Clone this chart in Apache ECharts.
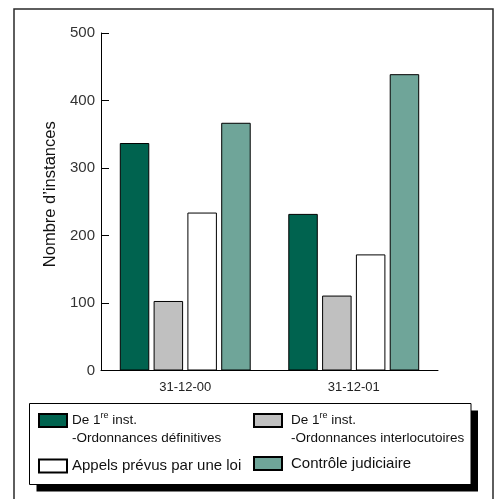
<!DOCTYPE html>
<html>
<head>
<meta charset="utf-8">
<script src="https://cdn.jsdelivr.net/npm/echarts@6/dist/echarts.min.js"></script>
<style>
  html, body { margin: 0; padding: 0; background: #fff; }
  #chart { width: 496px; height: 499px; }
</style>
</head>
<body>
<div id="chart"></div>
<script>
// Periods shown on the category axis
const categories = ['31-12-00', '31-12-01'];

// Number of proceedings per kind, one value per period
const finalOrders = [337, 232];          // De 1re inst. - Ordonnances définitives
const interlocutoryOrders = [103, 111];  // De 1re inst. - Ordonnances interlocutoires
const statutoryAppeals = [234, 172];     // Appels prévus par une loi
const judicialReview = [367, 439];       // Contrôle judiciaire

// Value axis ticks
const yTicks = [0, 100, 200, 300, 400, 500];

const seriesNames = [
  'De 1re inst. -Ordonnances définitives',
  'De 1re inst. -Ordonnances interlocutoires',
  'Appels prévus par une loi',
  'Contrôle judiciaire'
];
const seriesColors = ['#00634F', '#C0C0C0', '#FFFFFF', '#6FA599'];
const seriesData = [finalOrders, interlocutoryOrders, statutoryAppeals, judicialReview];

const FONT = '"Liberation Sans", Arial, Helvetica, sans-serif';

const twoLineRich = {
  t: { fontFamily: FONT, fontSize: 13.5, lineHeight: 18, color: '#111' },
  s: { fontFamily: FONT, fontSize: 9, lineHeight: 16, color: '#111', verticalAlign: 'top' }
};
const oneLineRich = {
  u: { fontFamily: FONT, fontSize: 15, lineHeight: 18, color: '#111' }
};

function legendLabel(name) {
  if (name === seriesNames[0]) return '{t|De 1}{s|re}{t| inst.}\n{t|-Ordonnances définitives}';
  if (name === seriesNames[1]) return '{t|De 1}{s|re}{t| inst.}\n{t|-Ordonnances interlocutoires}';
  return '{u|' + name + '}';
}

function makeLegend(name, left, top, twoLine, textPadLeft) {
  return {
    data: [name],
    left: left,
    top: top,
    padding: 0,
    orient: 'horizontal',
    icon: 'rect',
    itemWidth: 28,
    itemHeight: 13,
    selectedMode: false,
    formatter: legendLabel,
    textStyle: {
      fontFamily: FONT,
      padding: twoLine ? [18, 0, 0, textPadLeft] : [0, 0, 0, textPadLeft],
      rich: twoLine ? twoLineRich : oneLineRich
    }
  };
}

const chart = echarts.init(document.getElementById('chart'), null, { renderer: 'canvas' });

chart.setOption({
  animation: false,
  backgroundColor: '#fff',
  textStyle: { fontFamily: FONT },
  graphic: [
    {
      type: 'rect', z: -10, silent: true,
      shape: { x: 14, y: 9, width: 479, height: 500 },
      style: { fill: '#fff', stroke: '#2a2a2a', lineWidth: 1.5 }
    },
    {
      type: 'rect', z: -9, silent: true,
      shape: { x: 36.5, y: 410.5, width: 441.5, height: 81 },
      style: { fill: '#000' }
    },
    {
      type: 'rect', z: -8, silent: true,
      shape: { x: 29.5, y: 403.5, width: 441.5, height: 81 },
      style: { fill: '#fff', stroke: '#000', lineWidth: 1 }
    }
  ],
  legend: [
    makeLegend(seriesNames[0], 38, 411.5, true, 0),
    makeLegend(seriesNames[1], 253, 411.5, true, 4),
    makeLegend(seriesNames[2], 38, 458.5, false, 0),
    makeLegend(seriesNames[3], 253, 456, false, 4)
  ],
  grid: {
    left: 101,
    top: 33,
    width: 337,
    height: 337.5,
    containLabel: false
  },
  xAxis: {
    type: 'category',
    data: categories,
    axisLine: { lineStyle: { color: '#000', width: 1 } },
    axisTick: { inside: true, length: 7, lineStyle: { color: '#000' } },
    axisLabel: { fontFamily: FONT, fontSize: 13, color: '#222', margin: 10 }
  },
  yAxis: {
    type: 'value',
    min: yTicks[0],
    max: yTicks[yTicks.length - 1],
    interval: yTicks[1] - yTicks[0],
    name: "Nombre d’instances",
    nameLocation: 'middle',
    nameGap: 34,
    nameTextStyle: { fontFamily: FONT, fontSize: 16.5, color: '#111', padding: [0, 0, 0, 15] },
    axisLine: { show: true, lineStyle: { color: '#000', width: 1 } },
    axisTick: { show: true, inside: true, length: 8, lineStyle: { color: '#000' } },
    axisLabel: { fontFamily: FONT, fontSize: 15, color: '#333', margin: 6 },
    splitLine: { show: false }
  },
  series: seriesNames.map((name, i) => ({
    name: name,
    type: 'bar',
    data: seriesData[i],
    barWidth: 29.5,
    barGap: '14.6%',
    itemStyle: { color: seriesColors[i], borderColor: '#000', borderWidth: 1 }
  }))
});
</script>
</body>
</html>
